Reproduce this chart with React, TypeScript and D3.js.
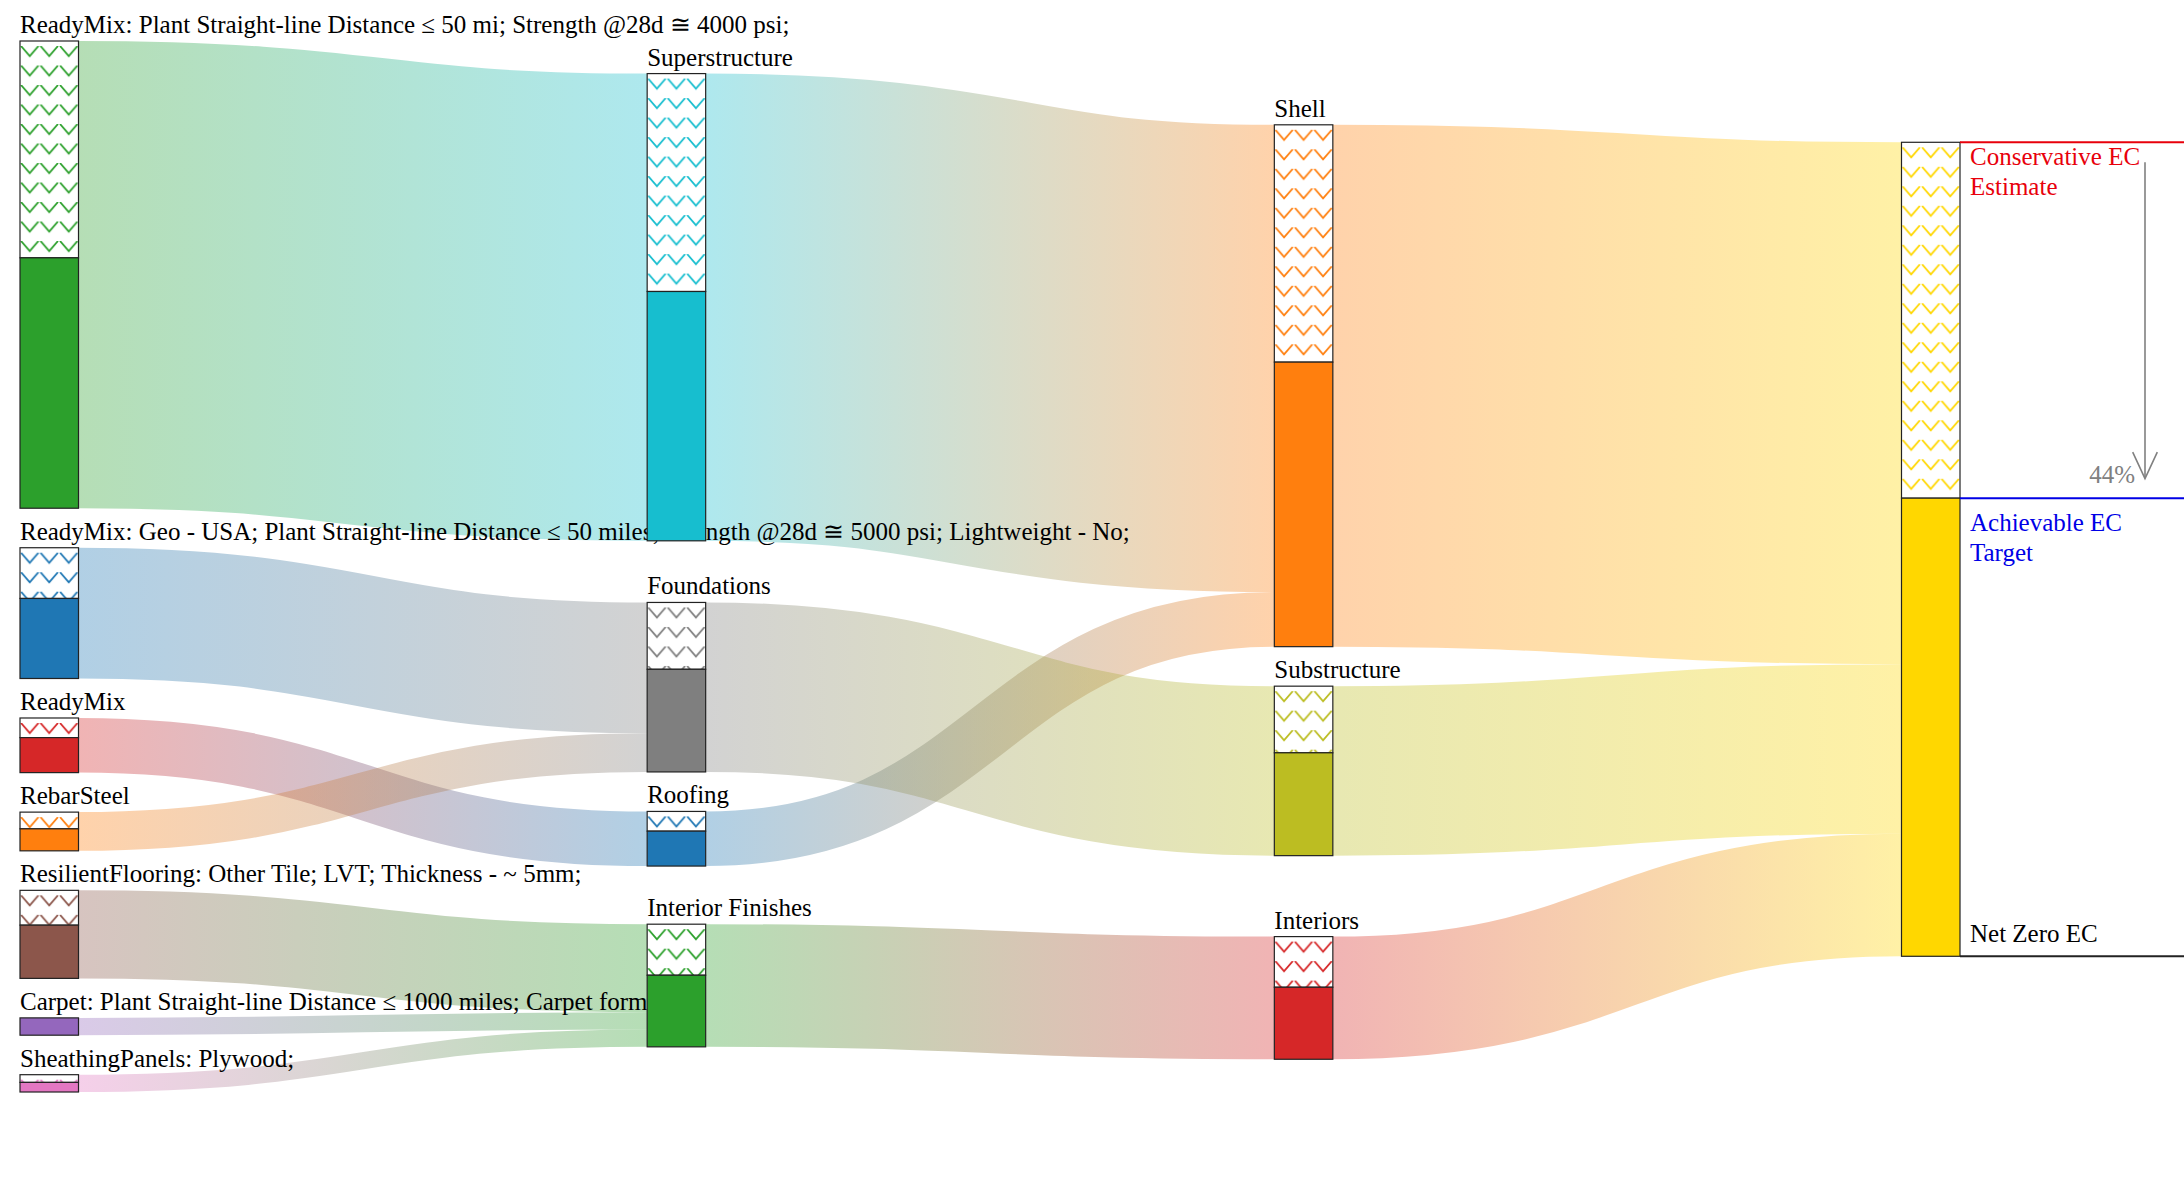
import React, { useMemo } from 'react';
import * as d3 from 'd3';

const WIDTH = 2184;
const HEIGHT = 1190;

// ---- Data ----
const nodeNames = [
  'ReadyMix: Plant Straight-line Distance ≤ 50 mi; Strength @28d ≅ 4000 psi;',
  'ReadyMix: Geo - USA; Plant Straight-line Distance ≤ 50 miles; Strength @28d ≅ 5000 psi; Lightweight - No;',
  'ReadyMix',
  'RebarSteel',
  'ResilientFlooring: Other Tile; LVT; Thickness - ~ 5mm;',
  'Carpet: Plant Straight-line Distance ≤ 1000 miles; Carpet form',
  'SheathingPanels: Plywood;',
  'Superstructure',
  'Foundations',
  'Roofing',
  'Interior Finishes',
  'Shell',
  'Substructure',
  'Interiors',
  'Total EC',
];

const nodeColors = [
  '#2ca02c', '#1f77b4', '#d62728', '#ff7f0e', '#8c564b', '#9467bd', '#e377c2',
  '#17becf', '#7f7f7f', '#1f77b4', '#2ca02c',
  '#ff7f0e', '#bcbd22', '#d62728',
  '#ffd700',
];

// reducible (hatched) portion of each node's conservative EC
const reducibleEC = [
  216.7, 50.7, 19.6, 16.7, 34.8, 0, 7.7,
  217.8, 66.8, 19.7, 51,
  237.2, 66.6, 50.6,
  355.7,
];

const linkSources = [0, 1, 2, 3, 4, 5, 6, 7, 9, 8, 10, 11, 12, 13];
const linkTargets = [7, 8, 9, 8, 10, 10, 10, 11, 11, 12, 13, 14, 14, 14];
const linkValues = [467, 130.7, 54.6, 38.7, 88, 17.3, 17.3, 467, 54.6, 169.4, 122.6, 521.6, 169.4, 122.6];

const finalLabels = {
  conservative: ['Conservative EC', 'Estimate'],
  achievable: ['Achievable EC', 'Target'],
  netZero: 'Net Zero EC',
};

// ---- Sankey layout (classic d3-sankey relaxation, 32 iterations) ----
function computeSankey(opts: any) {
  const { x0, y0, x1, y1, dx, dy, iterations } = opts;
  const nodes: any[] = nodeNames.map((name, i) => ({
    name, index: i, color: nodeColors[i], reducible: reducibleEC[i], sourceLinks: [], targetLinks: [],
  }));
  const links: any[] = linkValues.map((value, i) => ({
    index: i, value, source: nodes[linkSources[i]], target: nodes[linkTargets[i]],
  }));
  for (const l of links) {
    l.source.sourceLinks.push(l);
    l.target.targetLinks.push(l);
  }
  for (const n of nodes) {
    n.value = Math.max(d3.sum(n.sourceLinks, (l: any) => l.value), d3.sum(n.targetLinks, (l: any) => l.value));
  }
  let current = nodes;
  let x = 0;
  while (current.length) {
    const nx: any[] = [];
    for (const node of current) {
      node.depth = x;
      for (const { target } of node.sourceLinks) if (nx.indexOf(target) < 0) nx.push(target);
    }
    ++x;
    current = nx;
  }
  const nLayers = x;
  const kx = (x1 - x0 - dx) / (nLayers - 1);
  const columns: any[][] = Array.from({ length: nLayers }, () => []);
  for (const node of nodes) {
    const i = node.sourceLinks.length ? node.depth : nLayers - 1;
    node.layer = i;
    node.x0 = x0 + i * kx;
    node.x1 = node.x0 + dx;
    columns[i].push(node);
  }
  const py = dy;
  const ky = d3.min(columns, (c) => (y1 - y0 - (c.length - 1) * py) / d3.sum(c, (d: any) => d.value)) as number;
  columns.forEach((ns) =>
    ns.forEach((node, i) => {
      node.y0 = i;
      node.y1 = i + node.value * ky;
    })
  );
  for (const l of links) l.width = l.value * ky;
  const center = (n: any) => (n.y0 + n.y1) / 2;
  function resolve() {
    for (const ns of columns) {
      let node: any;
      let d: number;
      let y = y0;
      const n = ns.length;
      ns.sort((a, b) => a.y0 - b.y0);
      for (let i = 0; i < n; ++i) {
        node = ns[i];
        d = y - node.y0;
        if (d > 0) { node.y0 += d; node.y1 += d; }
        y = node.y1 + py;
      }
      d = y - py - y1;
      if (d > 0) {
        node.y0 -= d; node.y1 -= d;
        y = node.y0;
        for (let i = n - 2; i >= 0; --i) {
          node = ns[i];
          d = node.y1 + py - y;
          if (d > 0) { node.y0 -= d; node.y1 -= d; }
          y = node.y0;
        }
      }
    }
  }
  function relaxLeftToRight(alpha: number) {
    for (const ns of columns)
      for (const node of ns)
        if (node.targetLinks.length) {
          const d =
            (d3.sum(node.targetLinks, (l: any) => center(l.source) * l.value) /
              d3.sum(node.targetLinks, (l: any) => l.value) -
              center(node)) * alpha;
          node.y0 += d;
          node.y1 += d;
        }
  }
  function relaxRightToLeft(alpha: number) {
    for (const ns of columns.slice().reverse())
      for (const node of ns)
        if (node.sourceLinks.length) {
          const d =
            (d3.sum(node.sourceLinks, (l: any) => center(l.target) * l.value) /
              d3.sum(node.sourceLinks, (l: any) => l.value) -
              center(node)) * alpha;
          node.y0 += d;
          node.y1 += d;
        }
  }
  resolve();
  let alpha = 1;
  for (let n = iterations; n > 0; --n) {
    relaxRightToLeft((alpha *= 0.99));
    resolve();
    relaxLeftToRight(alpha);
    resolve();
  }
  for (const node of nodes) {
    node.sourceLinks.sort((a: any, b: any) => a.target.y0 - b.target.y0);
    node.targetLinks.sort((a: any, b: any) => a.source.y0 - b.source.y0);
  }
  for (const node of nodes) {
    let a = node.y0, b = node.y0;
    for (const link of node.sourceLinks) { link.y0 = a + link.width / 2; a += link.width; }
    for (const link of node.targetLinks) { link.y1 = b + link.width / 2; b += link.width; }
  }
  return { nodes, links, ky };
}

const FONT = "'Liberation Serif', 'Times New Roman', Times, serif";
const FS = 25;

export default function App() {
  const { nodes, links, ky } = useMemo(
    () => computeSankey({ x0: 20, y0: 41, x1: 1960, y1: 1092, dx: 58.5, dy: 39.5, iterations: 32 }),
    []
  );
  const linkPath = d3
    .linkHorizontal<any, any>()
    .source((l: any) => [l.source.x1, l.y0])
    .target((l: any) => [l.target.x0, l.y1]);

  const finalNode = nodes[nodes.length - 1];
  const fBoundary = finalNode.y0 + finalNode.reducible * ky;
  const pct = d3.format('.0%')(finalNode.reducible / finalNode.value);
  const annX = finalNode.x1;
  const arrowX = annX + 185;
  const tile = 19.5;

  return (
    <svg
      width={WIDTH}
      height={HEIGHT}
      style={{ position: 'absolute', left: 0, top: 0, background: '#fff', display: 'block' }}
      fontFamily={FONT}
    >
      <defs>
        {links.map((l: any) => (
          <linearGradient
            key={'g' + l.index}
            id={'grad-' + l.index}
            gradientUnits="userSpaceOnUse"
            x1={l.source.x1}
            x2={l.target.x0}
            y1={0}
            y2={0}
          >
            <stop offset="0%" stopColor={l.source.color} />
            <stop offset="100%" stopColor={l.target.color} />
          </linearGradient>
        ))}
        {nodes.map((n: any) => (
          <pattern
            key={'p' + n.index}
            id={'hatch-' + n.index}
            patternUnits="userSpaceOnUse"
            x={n.x0}
            y={n.y0 + 5}
            width={tile}
            height={tile}
          >
            <rect width={tile} height={tile} fill="#fff" />
            <path
              d={`M1,0 L${tile / 2},10 L${tile - 1},0`}
              fill="none"
              stroke={n.color}
              strokeWidth={1.8}
            />
          </pattern>
        ))}
      </defs>

      <g>
        {links.map((l: any) => (
          <path
            key={'l' + l.index}
            d={linkPath(l) as string}
            fill="none"
            stroke={`url(#grad-${l.index})`}
            strokeOpacity={0.35}
            strokeWidth={Math.max(1, l.width)}
          />
        ))}
      </g>

      <g fontSize={FS} fill="#000">
        {nodes
          .filter((n: any) => n.index !== finalNode.index)
          .map((n: any) => (
            <text key={'t' + n.index} x={n.x0} y={n.y0 - 8}>
              {n.name}
            </text>
          ))}
      </g>

      <g>
        {nodes.map((n: any) => {
          const hb = n.y0 + n.reducible * ky;
          return (
            <g key={'n' + n.index}>
              {n.reducible > 0 && (
                <rect
                  x={n.x0}
                  y={n.y0}
                  width={n.x1 - n.x0}
                  height={hb - n.y0}
                  fill={`url(#hatch-${n.index})`}
                  stroke="#222"
                  strokeWidth={1.2}
                />
              )}
              <rect
                x={n.x0}
                y={hb}
                width={n.x1 - n.x0}
                height={n.y1 - hb}
                fill={n.color}
                stroke="#222"
                strokeWidth={1.2}
              />
            </g>
          );
        })}
      </g>

      <g fontSize={FS}>
        <line x1={annX} x2={WIDTH} y1={finalNode.y0} y2={finalNode.y0} stroke="#e8000b" strokeWidth={2} />
        <line x1={annX} x2={WIDTH} y1={fBoundary} y2={fBoundary} stroke="#0000e6" strokeWidth={2} />
        <line x1={annX} x2={WIDTH} y1={finalNode.y1} y2={finalNode.y1} stroke="#222" strokeWidth={2} />
        <text x={annX + 10} y={finalNode.y0 + 23} fill="#e8000b">
          {finalLabels.conservative.map((s, i) => (
            <tspan key={s} x={annX + 10} dy={i === 0 ? 0 : 30}>
              {s}
            </tspan>
          ))}
        </text>
        <text x={annX + 10} y={fBoundary + 33} fill="#0000e6">
          {finalLabels.achievable.map((s, i) => (
            <tspan key={s} x={annX + 10} dy={i === 0 ? 0 : 30}>
              {s}
            </tspan>
          ))}
        </text>
        <text x={annX + 10} y={finalNode.y1 - 14} fill="#000">
          {finalLabels.netZero}
        </text>
        <line x1={arrowX} x2={arrowX} y1={finalNode.y0 + 20} y2={fBoundary - 20} stroke="#808080" strokeWidth={1.6} />
        <path
          d={`M${arrowX - 12.3},${fBoundary - 46} L${arrowX},${fBoundary - 19.5} L${arrowX + 12.3},${fBoundary - 46}`}
          fill="none"
          stroke="#808080"
          strokeWidth={1.6}
        />
        <text x={arrowX - 10} y={fBoundary - 15} fill="#808080" textAnchor="end">
          {pct}
        </text>
      </g>
    </svg>
  );
}
